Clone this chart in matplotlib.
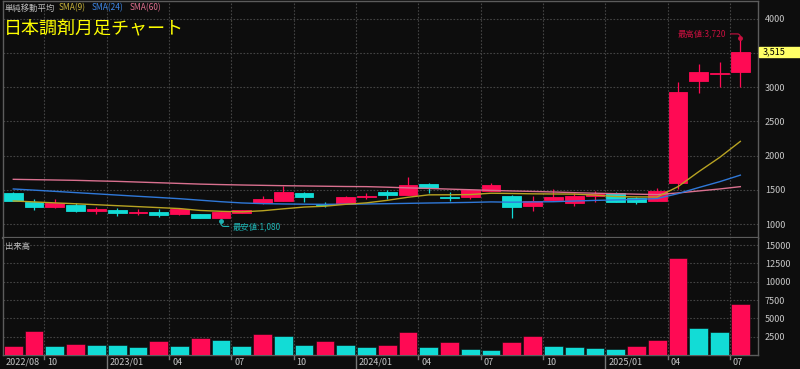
import matplotlib
matplotlib.use("Agg")
import matplotlib.pyplot as plt
import matplotlib.transforms as mtransforms
from matplotlib.patches import Rectangle
import numpy as np

plt.rcParams['font.family'] = ['Noto Sans CJK JP', 'DejaVu Sans']

# monthly candles 2022/08 .. 2025/07
opens = [1460, 1325, 1250, 1275, 1190, 1203, 1160, 1174, 1153, 1145, 1085, 1170,
         1305, 1345, 1460, 1300, 1295, 1390, 1465, 1425, 1580, 1400, 1395, 1490,
         1410, 1270, 1355, 1305, 1415, 1450, 1385, 1345, 1600, 3090, 3200, 3215]
highs = [1470, 1370, 1365, 1305, 1247, 1232, 1217, 1215, 1240, 1150, 1180, 1210,
         1410, 1555, 1470, 1325, 1410, 1450, 1500, 1695, 1605, 1470, 1505, 1595,
         1420, 1410, 1515, 1450, 1480, 1465, 1400, 1535, 3070, 3335, 3365, 3720]
lows = [1335, 1205, 1240, 1178, 1150, 1125, 1140, 1100, 1140, 1085, 1080, 1165,
        1300, 1340, 1330, 1250, 1290, 1365, 1365, 1420, 1460, 1335, 1370, 1485,
        1095, 1185, 1350, 1265, 1330, 1320, 1290, 1340, 1510, 2910, 3005, 3010]
closes = [1340, 1255, 1315, 1190, 1217, 1165, 1178, 1140, 1226, 1090, 1175, 1205,
          1365, 1470, 1400, 1285, 1395, 1410, 1430, 1575, 1525, 1375, 1500, 1575,
          1250, 1345, 1395, 1415, 1445, 1330, 1330, 1485, 2935, 3225, 3205, 3515]
volumes = [1230, 3230, 1220, 1550, 1410, 1320, 1050, 1950, 1230, 2270, 2050, 1230,
           2860, 2590, 1410, 1950, 1320, 1050, 1320, 3180, 1090, 1820, 770, 750,
           1820, 2550, 1180, 1090, 1000, 860, 1180, 2050, 13230, 3730, 3090, 6960]

sma9 = [1339, 1325, 1311, 1298, 1284, 1270, 1256, 1242, 1228, 1200, 1188, 1180,
        1196, 1224, 1250, 1262, 1290, 1311, 1348, 1393, 1428, 1429, 1433, 1452,
        1448, 1443, 1441, 1439, 1425, 1403, 1398, 1397, 1548, 1767, 1974, 2209]
sma24 = [1514, 1497, 1479, 1461, 1443, 1425, 1407, 1390, 1372, 1350, 1328, 1310,
         1300, 1295, 1292, 1290, 1292, 1295, 1299, 1304, 1309, 1313, 1318, 1325,
         1321, 1325, 1328, 1338, 1347, 1354, 1360, 1375, 1446, 1535, 1620, 1716]
sma60 = [1655, 1650, 1645, 1640, 1632, 1625, 1615, 1605, 1595, 1585, 1578, 1572,
         1567, 1562, 1558, 1554, 1550, 1548, 1540, 1530, 1522, 1512, 1503, 1493,
         1485, 1478, 1470, 1460, 1452, 1445, 1438, 1432, 1456, 1485, 1514, 1548]

tick_idx = [0, 2, 5, 8, 11, 14, 17, 20, 23, 26, 29, 32, 35]
tick_labels = ["2022/08", "10", "2023/01", "04", "07", "10", "2024/01",
               "04", "07", "10", "2025/01", "04", "07"]
year_idx = [5, 17, 29]

price_grid = [1000, 1500, 2000, 2500, 3000, 3500, 4000]
price_ticks = [1000, 1500, 2000, 2500, 3000, 4000]   # 3500 sits under the price box
vol_ticks = [2500, 5000, 7500, 10000, 12500, 15000]

UP = "#ff0a54"
DOWN = "#12dcd6"
BG = "#0d0d0d"
GRID = "#444444"
AXIS = "#5c5c5c"
LABEL = "#c8c8c8"

x = np.arange(len(closes))
o = np.array(opens)
c = np.array(closes)
up = c >= o
candle_colors = [UP if u else DOWN for u in up]
vol_colors = [UP] + [UP if volumes[i] > volumes[i - 1] else DOWN
                     for i in range(1, len(volumes))]

W, H = 800, 369
fig = plt.figure(figsize=(W / 100, H / 100), dpi=100, facecolor=BG)
ax = fig.add_axes([2.5 / W, (H - 238) / H, (758 - 2.5) / W, 237 / H], facecolor=BG)
axv = fig.add_axes([2.5 / W, (H - 355) / H, (758 - 2.5) / W, 117 / H], facecolor=BG)

for a in (ax, axv):
    a.set_xlim(-0.52, 35.85)
    for s in a.spines.values():
        s.set_color(AXIS)
        s.set_linewidth(1)
    a.yaxis.tick_right()
    a.tick_params(axis='y', length=0, pad=5, labelsize=6.5, labelcolor=LABEL)
    for b in tick_idx[1:]:
        a.axvline(b - 0.5, color=GRID, lw=0.8, ls=(0, (1.5, 1.5)), zorder=0)

# price panel
ax.set_ylim(798, 4259)
ax.set_yticks(price_ticks)
ax.set_xticks([])
ax.spines['bottom'].set_linewidth(1.6)
for p in price_grid:
    ax.axhline(p, color=GRID, lw=0.8, ls=(0, (1.5, 1.5)), zorder=0)

ax.vlines(x, lows, highs, colors=candle_colors, lw=0.9, zorder=3)
body_lo = np.minimum(o, c)
body_h = np.abs(c - o)
ax.bar(x, body_h, 0.9, bottom=body_lo, color=candle_colors,
       edgecolor=candle_colors, lw=0.6, zorder=4)

ax.plot(x, sma60, color="#d9708f", lw=1, zorder=5)
ax.plot(x, sma24, color="#2f78d8", lw=1, zorder=5)
ax.plot(x, sma9, color="#b8a322", lw=1, zorder=5)

# high / low annotations
hi = int(np.argmax(highs))
lo = int(np.argmin(lows))
ax.plot(hi, highs[hi], 'o', ms=2.5, color="#c8103f", zorder=6)
ax.annotate(f"最高値:{highs[hi]:,}", xy=(hi, highs[hi]), xytext=(-14, 4),
            textcoords='offset pixels', ha='right', va='center', fontsize=6,
            color="#c8103f",
            arrowprops=dict(arrowstyle='-', color="#c8103f", lw=0.8,
                            connectionstyle="angle,angleA=0,angleB=90,rad=3",
                            shrinkA=1, shrinkB=0))
ax.plot(lo, lows[lo] - 40, 'o', ms=2.5, color="#1fb3b3", zorder=6)
ax.annotate(f"最安値:{lows[lo]:,}", xy=(lo, lows[lo] - 40), xytext=(12, -5),
            textcoords='offset pixels', ha='left', va='center', fontsize=6,
            color="#1fb3b3",
            arrowprops=dict(arrowstyle='-', color="#1fb3b3", lw=0.8,
                            connectionstyle="angle,angleA=0,angleB=90,rad=3",
                            shrinkA=1, shrinkB=0))

# last price box
blend = mtransforms.blended_transform_factory(fig.transFigure, ax.transData)
ax.add_patch(Rectangle((759 / W, closes[-1] - 73), 41 / W, 146, transform=blend,
                       color="#ffff66", clip_on=False, zorder=7))
ax.text(763 / W, closes[-1], f"{closes[-1]:,}", transform=blend, fontsize=6.5,
        color="black", va='center', ha='left', zorder=8)

# volume panel
axv.set_ylim(0, 15960)
axv.set_yticks(vol_ticks)
axv.spines['top'].set_visible(False)
for v in vol_ticks:
    axv.axhline(v, color=GRID, lw=0.8, ls=(0, (1.5, 1.5)), zorder=0)
axv.bar(x, volumes, 0.9, color=vol_colors, edgecolor="#0d0d0d", lw=0.4, zorder=3)

axv.set_xticks([])
xt = axv.get_xaxis_transform()
shift = mtransforms.ScaledTranslation(3 / 100, 0, fig.dpi_scale_trans)
for i, lab in zip(tick_idx, tick_labels):
    axv.text(i - 0.5, -0.062, lab, transform=xt + shift, fontsize=6.5,
             color=LABEL, ha='left', va='center')
    if i in year_idx:
        axv.plot([i - 0.5, i - 0.5], [0, -0.13], transform=xt, color="#777777",
                 lw=1, clip_on=False)
    elif i > 0:
        axv.plot([i - 0.5, i - 0.5], [0, -0.03], transform=xt, color="#777777",
                 lw=1, clip_on=False)

# header texts
fig.text(5 / W, 1 - 8 / H, "単純移動平均", fontsize=6, color="#bdbdbd", va='center')
fig.text(59 / W, 1 - 8 / H, "SMA(9)", fontsize=6, color="#c8b33a", va='center')
fig.text(92 / W, 1 - 8 / H, "SMA(24)", fontsize=6, color="#3d86e6", va='center')
fig.text(130 / W, 1 - 8 / H, "SMA(60)", fontsize=6, color="#e0708f", va='center')
fig.text(4 / W, 1 - 28.5 / H, "日本調剤月足チャート", fontsize=13, color="#ffff00",
         va='center')
fig.text(5 / W, 1 - 246 / H, "出来高", fontsize=6, color="#bdbdbd", va='center')

fig.savefig("out.png", dpi=100, facecolor=BG)
